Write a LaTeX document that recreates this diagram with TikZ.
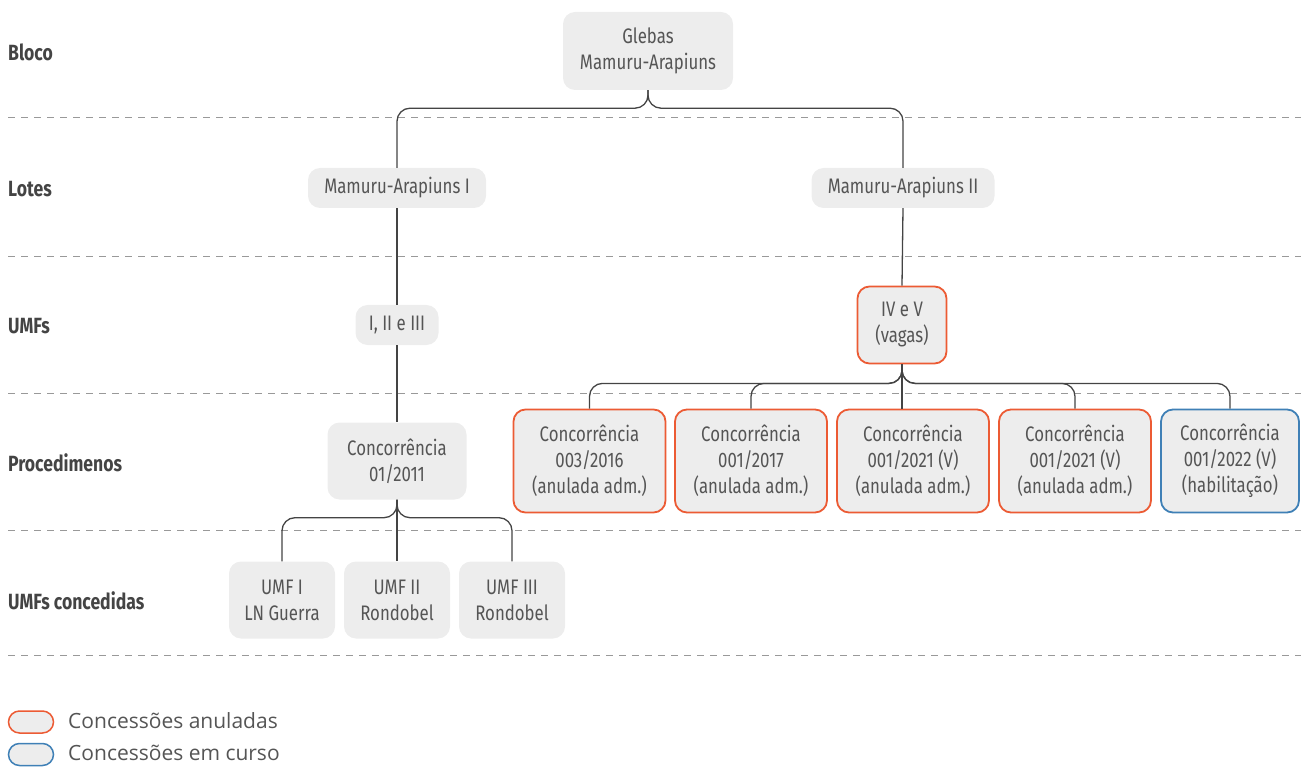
\documentclass[tikz,border=0pt]{standalone}
\usepackage{fontspec}
\newfontfamily\condf[FakeStretch=0.80]{Fira Sans}
\newfontfamily\legf{Open Sans}
\definecolor{boxfill}{HTML}{EDEDED}
\definecolor{txt}{HTML}{555555}
\definecolor{lbl}{HTML}{444444}
\definecolor{lin}{HTML}{444444}
\definecolor{orng}{HTML}{EC5B34}
\definecolor{blu}{HTML}{3F80B6}
\definecolor{dsh}{HTML}{999999}
\tikzset{
  x=1pt, y=-1pt,
  box/.style={fill=boxfill, rounded corners=12pt, inner sep=0pt, align=center,
    text=txt, font=\condf\fontsize{21}{26}\selectfont},
  anul/.style={draw=orng, line width=1.8pt},
  curso/.style={draw=blu, line width=1.8pt},
  rowlbl/.style={anchor=west, text=lbl, inner sep=0pt, font=\condf\bfseries\fontsize{22}{24}\selectfont},
  conn/.style={draw=lin, line width=1.3pt, rounded corners=13pt},
  sep/.style={draw=dsh, line width=1pt, dash pattern=on 7pt off 6pt},
  legbox/.style={fill=boxfill, rounded corners=11pt, line width=1.5pt, minimum width=45pt, minimum height=22pt, inner sep=0pt},
  legtxt/.style={anchor=west, text=txt, inner sep=0pt, font=\legf\fontsize{21}{24}\selectfont}
}
\begin{document}
\begin{tikzpicture}
\useasboundingbox (0,0) rectangle (1301,767);
% separators
\foreach \yy/\nm in {118/s1,257/s2,393/s3,530/s4,655/s5}{
  \coordinate (\nm a) at (8,\yy);
  \coordinate (\nm b) at (1301,\yy);
  \draw[sep] (\nm a) -- (\nm b);
}
% row labels
\node[rowlbl] (l1) at (8,52) {Bloco};
\node[rowlbl] (l2) at (8,189) {Lotes};
\node[rowlbl] (l3) at (8,326) {UMFs};
\node[rowlbl] (l4) at (8,463) {Procedimenos};
\node[rowlbl] (l5) at (8,601) {UMFs concedidas};
% boxes
\node[box, minimum width=170pt, minimum height=78pt] (g) at (648,51) {Glebas\\Mamuru-Arapiuns};
\node[box, minimum width=178pt, minimum height=40pt] (ma1) at (397,188) {Mamuru-Arapiuns I};
\node[box, minimum width=183pt, minimum height=40pt] (ma2) at (903,188) {Mamuru-Arapiuns II};
\node[box, minimum width=83pt, minimum height=40pt] (u123) at (397,325) {I, II e III};
\node[box, anul, minimum width=89pt, minimum height=77pt] (iv) at (902,325) {IV e V\\(vagas)};
\node[box, minimum width=139pt, minimum height=77pt] (c1) at (397,461) {Concorrência\\01/2011};
\node[box, anul, minimum width=152pt, minimum height=103pt] (p1) at (589.5,461) {Concorrência\\003/2016\\(anulada adm.)};
\node[box, anul, minimum width=152pt, minimum height=103pt] (p2) at (751,461) {Concorrência\\001/2017\\(anulada adm.)};
\node[box, anul, minimum width=152pt, minimum height=103pt] (p3) at (913,461) {Concorrência\\001/2021 (V)\\(anulada adm.)};
\node[box, anul, minimum width=152pt, minimum height=103pt] (p4) at (1075,461) {Concorrência\\001/2021 (V)\\(anulada adm.)};
\node[box, curso, minimum width=138pt, minimum height=103pt] (p5) at (1230,461) {Concorrência\\001/2022 (V)\\(habilitação)};
\node[box, minimum width=106pt, minimum height=77pt] (k1) at (282,600) {UMF I\\LN Guerra};
\node[box, minimum width=106pt, minimum height=77pt] (k2) at (397,600) {UMF II\\Rondobel};
\node[box, minimum width=106pt, minimum height=77pt] (k3) at (512,600) {UMF III\\Rondobel};
% connectors
\draw[conn] (g.south) -- ++(0,18) -| (ma1.north);
\draw[conn] (g.south) -- ++(0,18) -| (ma2.north);
\draw[conn] (ma1.south) -- (u123.north);
\draw[conn] (u123.south) -- (c1.north);
\draw[conn] (ma2.south) -- (iv.north);
\draw[conn] (iv.south) -- (iv.south |- p3.north);
\foreach \t in {p1,p2,p4,p5}{
  \draw[conn] (iv.south) -- ++(0,19) -| (\t.north);
}
\draw[conn] (c1.south) -- ++(0,18) -| (k1.north);
\draw[conn] (c1.south) -- ++(0,18) -| (k3.north);
\draw[conn] (c1.south) -- (k2.north);
% legend
\node[legbox, draw=orng] (la) at (31,722) {};
\node[legbox, draw=blu] (lb) at (31,754.5) {};
\node[legtxt] (lat) at (68,721) {Concessões anuladas};
\node[legtxt] (lbt) at (68,753) {Concessões em curso};
\end{tikzpicture}
\end{document}
